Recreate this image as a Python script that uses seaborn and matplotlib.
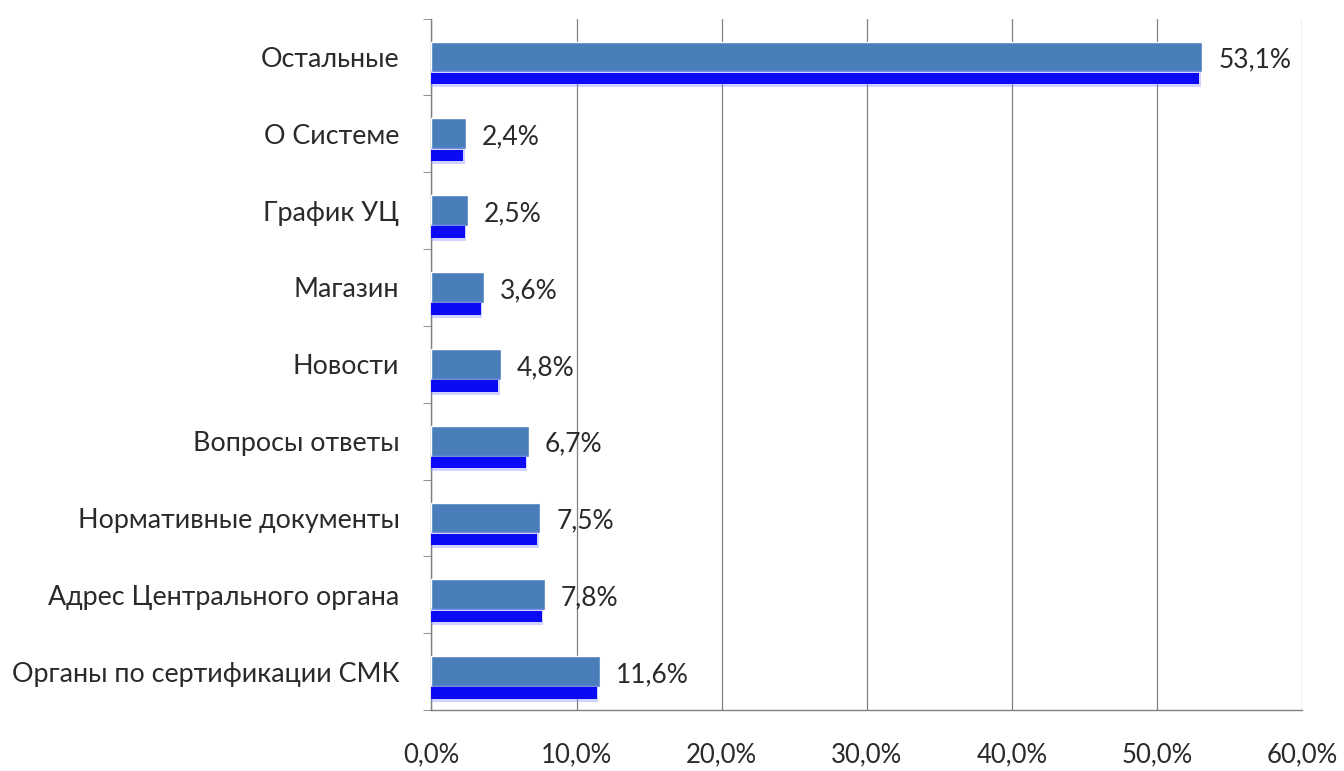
import numpy as np
import pandas as pd
import seaborn as sns
import matplotlib.pyplot as plt
from matplotlib.ticker import FuncFormatter, FixedLocator

# Data (top to bottom)
categories = ["Остальные", "О Системе", "График УЦ", "Магазин", "Новости",
              "Вопросы ответы", "Нормативные документы",
              "Адрес Центрального органа", "Органы по сертификации СМК"]
shares = [53.1, 2.4, 2.5, 3.6, 4.8, 6.7, 7.5, 7.8, 11.6]

df = pd.DataFrame({"Category": categories, "Share": shares})

sns.set_style("white")
plt.rcParams["font.family"] = ["Lato", "DejaVu Sans"]

fig, ax = plt.subplots(figsize=(13.44, 7.71), dpi=100)
fig.subplots_adjust(left=0.321, right=0.969, top=0.976, bottom=0.079)

# main bar body
sns.barplot(data=df, x="Share", y="Category", orient="h", color="#4a7ebb",
            saturation=1, width=0.4, ax=ax, zorder=3)

# bright lower edge (pseudo 3D), with a soft halo
pos = np.arange(len(categories))
vals = np.array(shares)
ax.barh(pos + 0.285, vals - 0.1, height=0.22, color="#7a80ff", alpha=0.35,
        zorder=3.5, linewidth=0)
ax.barh(pos + 0.28, vals - 0.2, height=0.15, color="#0a0af5",
        zorder=4, linewidth=0)

for p, v in zip(pos, shares):
    ax.text(v + 1.1, p + 0.04, f"{v:.1f}%".replace(".", ","), va="center",
            ha="left", fontsize=19, color="#2a2a2a")

ax.set_xlim(0, 60)
ax.set_ylim(len(categories) - 0.5, -0.5)
ax.xaxis.set_major_locator(FixedLocator(np.arange(0, 61, 10)))
ax.xaxis.set_major_formatter(FuncFormatter(lambda x, _: f"{x:.1f}%".replace(".", ",")))
ax.grid(axis="x", color="#808080", linewidth=0.9, zorder=0)
ax.set_axisbelow(True)

ax.set_xlabel("")
ax.set_ylabel("")
for s in ["top", "right"]:
    ax.spines[s].set_visible(False)
for s in ["left", "bottom"]:
    ax.spines[s].set_color("#808080")
    ax.spines[s].set_linewidth(1)

ax.tick_params(axis="y", length=0, labelsize=19.4, pad=23, labelcolor="#2a2a2a")
ax.tick_params(axis="x", length=6, direction="out", color="#808080",
               labelsize=18.5, pad=17, labelcolor="#2a2a2a")
# minor ticks between categories on the y axis
ax.yaxis.set_minor_locator(FixedLocator(np.arange(-0.5, len(categories), 1)))
ax.tick_params(axis="y", which="minor", length=6, color="#808080", left=True)

fig.savefig("out.png", dpi=100)
